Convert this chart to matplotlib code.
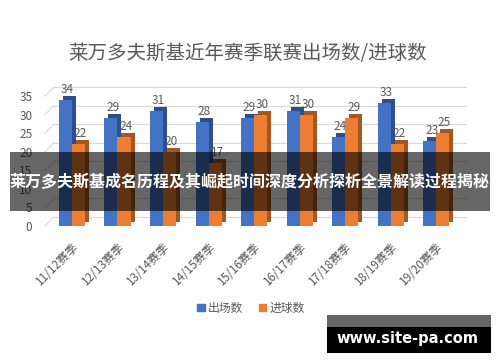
import numpy as np
import matplotlib
matplotlib.use('Agg')
import matplotlib.pyplot as plt
from matplotlib.patches import Patch, Rectangle
from matplotlib.lines import Line2D
from matplotlib.transforms import ScaledTranslation, blended_transform_factory

plt.rcParams['font.family'] = ['Noto Sans CJK SC', 'DejaVu Sans']

seasons = ['11/12赛季', '12/13赛季', '13/14赛季', '14/15赛季', '15/16赛季',
           '16/17赛季', '17/18赛季', '18/19赛季', '19/20赛季']
appearances = [34, 29, 31, 28, 29, 31, 24, 33, 23]
goals = [22, 24, 20, 17, 30, 30, 29, 22, 25]
yticks = [0, 5, 10, 15, 20, 25, 30, 35]

title = '莱万多夫斯基近年赛季联赛出场数/进球数'
banner = '莱万多夫斯基成名历程及其崛起时间深度分析探析全景解读过程揭秘'
site = 'www.site-pa.com'

blue, blue_dark = '#4472C4', '#2D4F8E'
orange, orange_dark = '#ED7D31', '#A8561F'
gray = '#595959'

fig = plt.figure(figsize=(5, 3.62), dpi=100)
ax = fig.add_axes([45 / 500, 1 - 226 / 362, 412 / 500, 130 / 362])

x = np.arange(len(seasons))
w = 0.286
depth = ScaledTranslation(4 / 100, 4 / 100, fig.dpi_scale_trans)

ax.bar(x - w / 2, appearances, w, color=blue_dark, transform=ax.transData + depth, zorder=2)
ax.bar(x - w / 2, appearances, w, color=blue, zorder=3)
ax.bar(x + w / 2, goals, w, color=orange_dark, transform=ax.transData + depth, zorder=4)
ax.bar(x + w / 2, goals, w, color=orange, zorder=5)

ax.set_xlim(-0.593, 8.46)
ax.set_ylim(0, 35)

# back-wall gridlines and side-wall diagonals (3D look)
back = ScaledTranslation(9 / 100, 9 / 100, fig.dpi_scale_trans)
ytrans = ax.get_yaxis_transform()
fig.canvas.draw()
for v in yticks:
    ax.plot([0, 1], [v, v], color='#D9D9D9', lw=0.8, transform=ytrans + back,
            zorder=1, clip_on=False)
    p0 = ytrans.transform((0, v))
    p1 = (ytrans + back).transform((0, v))
    fig.add_artist(Line2D([p0[0], p1[0]], [p0[1], p1[1]], color='#D9D9D9', lw=0.8,
                          transform=None, zorder=1))

# value labels
lab = ScaledTranslation(2 / 100, 4 / 100, fig.dpi_scale_trans)
for xi, v in zip(x, appearances):
    ax.text(xi - w / 2, v, str(v), ha='center', va='bottom', fontsize=8.5, color=gray,
            transform=ax.transData + lab, zorder=6)
for xi, v in zip(x, goals):
    ax.text(xi + w / 2, v, str(v), ha='center', va='bottom', fontsize=8.5, color=gray,
            transform=ax.transData + lab, zorder=6)

ax.set_yticks(yticks)
ax.set_xticks(x)
ax.set_xticklabels(seasons, rotation=45, ha='right', rotation_mode='anchor')
ax.tick_params(length=0, labelsize=8.5, labelcolor=gray)
ax.tick_params(axis='y', pad=9)
ax.tick_params(axis='x', pad=10)
for s in ax.spines.values():
    s.set_visible(False)

fig.text(0.495, 1 - 54 / 362, title, ha='center', va='center', fontsize=14, color=gray)

fig.legend(handles=[Patch(color=blue, label='出场数'), Patch(color=orange, label='进球数')],
           loc='center', bbox_to_anchor=(0.502, 1 - 308 / 362), ncol=2, frameon=False,
           handlelength=0.6, handleheight=0.6, handletextpad=0.3, columnspacing=1.3,
           fontsize=8.5, labelcolor=gray)

# overlay banner
fig.add_artist(Rectangle((10 / 500, 1 - 211 / 362), 480 / 500, 59 / 362,
                         transform=fig.transFigure, color='black', alpha=0.6, lw=0, zorder=10))
fig.text(0.5, 1 - 181.5 / 362, banner, ha='center', va='center', fontsize=11.5,
         fontweight='bold', color='white', zorder=11)

# watermark box
fig.add_artist(Rectangle((327 / 500, 1 - 327 / 362), 164 / 500, 12 / 362,
                         transform=fig.transFigure, color='#666666', lw=0, zorder=10))
fig.add_artist(Rectangle((327 / 500, 1 - 353 / 362), 164 / 500, 26 / 362,
                         transform=fig.transFigure, color='black', lw=0, zorder=10))
fig.text(407 / 500, 1 - 338 / 362, site, ha='center', va='center', fontsize=10.5,
         fontweight='bold', color='white', family='DejaVu Sans', zorder=11)

fig.savefig('out.png', dpi=100)
